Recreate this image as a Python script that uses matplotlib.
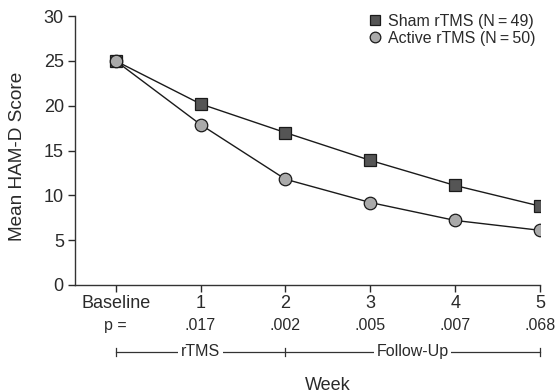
import numpy as np
import matplotlib
matplotlib.use('Agg')
import matplotlib.pyplot as plt
import matplotlib.transforms as mtransforms

weeks = [0, 1, 2, 3, 4, 5]
week_labels = ['Baseline', '1', '2', '3', '4', '5']
p_values = ['p =', '.017', '.002', '.005', '.007', '.068']
sham = [25.0, 20.2, 17.0, 13.9, 11.1, 8.8]
active = [25.0, 17.9, 11.8, 9.2, 7.2, 6.1]
phases = [('rTMS', 0, 2), ('Follow-Up', 2, 5)]

txt = '#2a2a2a'
plt.rcParams['font.family'] = ['Liberation Sans', 'DejaVu Sans']

fig = plt.figure(figsize=(5.55, 3.92), dpi=100)
ax = fig.add_axes([0.135, 0.273, 0.838, 0.686])

ax.plot(weeks, sham, color='#1a1a1a', lw=1.0, marker='s', ms=8.5,
        mfc='#555555', mec='#1a1a1a', mew=0.9,
        label='Sham rTMS (N\u2009=\u200949)', zorder=3)
ax.plot(weeks, active, color='#1a1a1a', lw=1.0, marker='o', ms=9,
        mfc='#aaaaaa', mec='#1a1a1a', mew=0.9,
        label='Active rTMS (N\u2009=\u200950)', zorder=4)

ax.set_xlim(-0.48, 5)
ax.set_ylim(0, 30)
ax.set_yticks([0, 5, 10, 15, 20, 25, 30])
ax.set_xticks(weeks)
ax.set_xticklabels(week_labels)
ax.tick_params(axis='both', direction='out', colors=txt, labelsize=13,
               length=5, width=1.0)
ax.tick_params(axis='x', pad=2)
ax.tick_params(axis='y', pad=3)
for side in ['top', 'right']:
    ax.spines[side].set_visible(False)
for side in ['left', 'bottom']:
    ax.spines[side].set_color('#333333')
    ax.spines[side].set_linewidth(1.0)

ax.set_ylabel('Mean HAM-D Score', fontsize=13.7, color=txt)
ax.yaxis.set_label_coords(-0.106, 0.48)

trans = mtransforms.blended_transform_factory(ax.transData, ax.transAxes)
for w, p in zip(weeks, p_values):
    ax.text(w, -0.152, p, transform=trans, ha='center', va='center',
            fontsize=11.5, color=txt, clip_on=False)

# phase bracket under the axis
yb = -0.249
ax.plot([weeks[0], weeks[-1]], [yb, yb], transform=trans, color='#333333',
        lw=0.9, clip_on=False)
for w in [0, 2, 5]:
    ax.plot([w, w], [yb - 0.014, yb + 0.014], transform=trans,
            color='#333333', lw=0.9, clip_on=False)
for name, a, b in phases:
    ax.text((a + b) / 2, yb, name, transform=trans, ha='center', va='center',
            fontsize=11.5, color=txt, clip_on=False,
            bbox=dict(facecolor='white', edgecolor='none', pad=2))

ax.text(2.5, -0.372, 'Week', transform=trans, ha='center', va='center',
        fontsize=13, color=txt, clip_on=False)

leg = ax.legend(loc='upper right', bbox_to_anchor=(1.01, 1.045), frameon=False,
                fontsize=11.5, handlelength=0.8, handletextpad=0.4,
                labelspacing=0.15, borderaxespad=0.2, markerscale=0.85)
for t in leg.get_texts():
    t.set_color(txt)
for h in leg.legend_handles:
    h.set_linestyle('none')

fig.savefig('out.png', dpi=100)
